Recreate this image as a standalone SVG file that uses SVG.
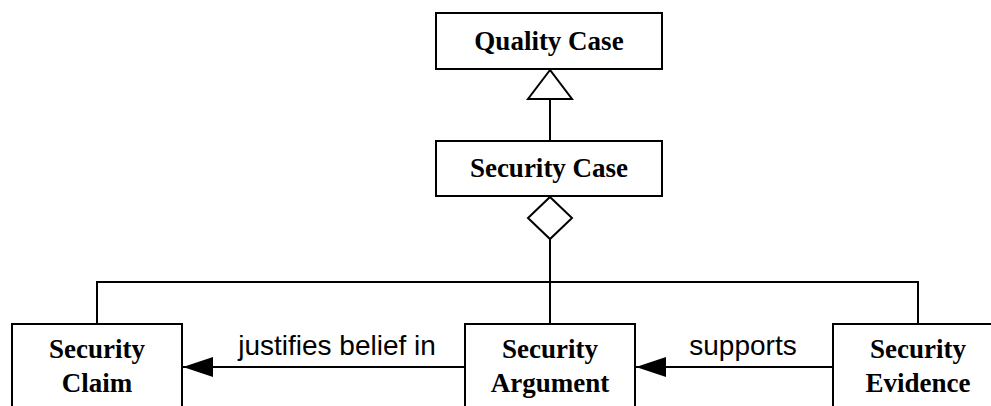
<svg xmlns="http://www.w3.org/2000/svg" width="991" height="406" viewBox="0 0 991 406">
  <style>
    .box { fill: #fff; stroke: #000; stroke-width: 2; }
    .line { fill: none; stroke: #000; stroke-width: 2; }
    .name { font-family: "Liberation Serif", "Times New Roman", serif; font-weight: bold; font-size: 27px; text-anchor: middle; fill: #000; }
    .label { font-family: "Liberation Sans", Arial, sans-serif; font-size: 28px; text-anchor: middle; fill: #000; }
  </style>
  <defs>
    <marker id="arrow" markerUnits="userSpaceOnUse" markerWidth="30" markerHeight="22" refX="30" refY="11" orient="auto">
      <path d="M0,1 L30,11 L0,21 Z" fill="#000"/>
    </marker>
  </defs>
  <rect width="991" height="406" fill="#fff"/>

  <g id="connectors">
    <!-- generalization: Security Case to Quality Case -->
    <line class="line" x1="550" y1="141" x2="550" y2="99"/>
    <polygon class="line" points="550,70 528,99 572,99" fill="#fff"/>
    <!-- aggregation: Security Case owns its parts -->
    <polygon class="line" points="550,197 572,218 550,239 528,218" fill="#fff"/>
    <line class="line" x1="550" y1="239" x2="550" y2="324"/>
    <polyline class="line" points="97,324 97,282 918,282 918,324"/>
    <!-- associations -->
    <line class="line" x1="465" y1="367" x2="183" y2="367" marker-end="url(#arrow)"/>
    <text class="label" x="337" y="355">justifies belief in</text>
    <line class="line" x1="833" y1="367" x2="636" y2="367" marker-end="url(#arrow)"/>
    <text class="label" x="743" y="355">supports</text>
  </g>

  <g id="quality-case">
    <rect class="box" x="436" y="13" width="226" height="56"/>
    <text class="name" x="549" y="50">Quality Case</text>
  </g>

  <g id="security-case">
    <rect class="box" x="436" y="141" width="226" height="55"/>
    <text class="name" x="549" y="177">Security Case</text>
  </g>

  <g id="security-claim">
    <rect class="box" x="12" y="324" width="170" height="100"/>
    <text class="name" x="97" y="358">Security</text>
    <text class="name" x="97" y="392">Claim</text>
  </g>

  <g id="security-argument">
    <rect class="box" x="465" y="324" width="170" height="100"/>
    <text class="name" x="550" y="358">Security</text>
    <text class="name" x="550" y="392">Argument</text>
  </g>

  <g id="security-evidence">
    <rect class="box" x="833" y="324" width="170" height="100"/>
    <text class="name" x="918" y="358">Security</text>
    <text class="name" x="918" y="392">Evidence</text>
  </g>
</svg>
